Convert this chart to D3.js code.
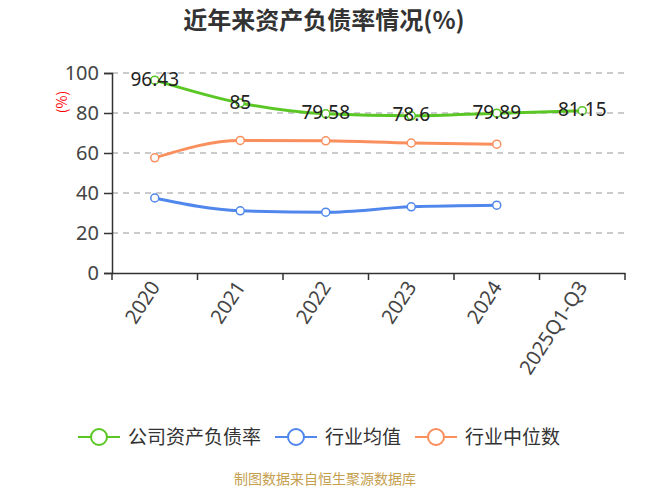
<!DOCTYPE html>
<html>
<head>
<meta charset="utf-8">
<script src="https://cdn.jsdelivr.net/npm/d3@7"></script>
<style>
body { margin: 0; background: #fff; }
svg { font-family: "Noto Sans CJK SC", "Noto Sans", sans-serif; }
</style>
</head>
<body>
<svg id="chart" width="650" height="488"></svg>
<script>
// categories and series
var categories = ['2020', '2021', '2022', '2023', '2024', '2025Q1-Q3'];
var company_ratio = [96.43, 85, 79.58, 78.6, 79.89, 81.15];
var industry_mean = [37.5, 31.1, 30.4, 33.1, 33.9];
var industry_median = [57.6, 66.3, 66.1, 65.0, 64.4];
var y_ticks = [0, 20, 40, 60, 80, 100];
var series_names = ['公司资产负债率', '行业均值', '行业中位数'];
var series_colors = ['#5ac724', '#5087ec', '#fa8f5e'];

var margin = { top: 73, right: 25, bottom: 215, left: 112 };
var svg = d3.select('#chart');
var width = 650 - margin.left - margin.right;
var height = 488 - margin.top - margin.bottom;

var x = d3.scaleBand().domain(categories).range([0, width]);
var y = d3.scaleLinear().domain([0, 100]).range([height, 0]);

// title
svg.append('text')
   .attr('x', 324).attr('y', 29)
   .attr('text-anchor', 'middle')
   .style('font-size', '24px').style('font-weight', 'bold').style('fill', '#333')
   .text('近年来资产负债率情况(%)');

var g = svg.append('g').attr('transform', 'translate(' + margin.left + ',' + margin.top + ')');

// dashed grid lines
g.selectAll('.grid')
 .data(y_ticks.filter(d => d > 0))
 .enter().append('line')
 .attr('class', 'grid')
 .attr('x1', 0).attr('x2', width)
 .attr('y1', d => y(d)).attr('y2', d => y(d))
 .style('stroke', '#bbb').style('stroke-width', 1.5).style('stroke-dasharray', '6,5');

// y axis
var yAxis = g.append('g').call(d3.axisLeft(y).tickValues(y_ticks).tickSize(8).tickPadding(5));
yAxis.select('.domain').style('stroke', '#333').style('stroke-width', 1.5);
yAxis.selectAll('.tick line').style('stroke', '#333').style('stroke-width', 1.5);
yAxis.selectAll('text').style('font-size', '20px').style('fill', '#444').style('font-family', '"Noto Sans", sans-serif');

svg.append('text')
   .attr('transform', 'translate(67,102)rotate(-90)')
   .attr('text-anchor', 'middle')
   .style('font-size', '14px').style('fill', '#f00')
   .text('(%)');

// x axis, ticks on band edges
var xAxis = g.append('g').attr('transform', 'translate(0,' + height + ')')
  .call(d3.axisBottom(x).tickSize(0).tickSizeOuter(0));
xAxis.select('.domain').style('stroke', '#333').style('stroke-width', 1.5);
g.append('g').attr('transform', 'translate(0,' + height + ')')
 .selectAll('line')
 .data(d3.range(categories.length + 1))
 .enter().append('line')
 .attr('x1', i => i * x.bandwidth()).attr('x2', i => i * x.bandwidth())
 .attr('y1', 0).attr('y2', 7)
 .style('stroke', '#333').style('stroke-width', 1.5);
xAxis.selectAll('text')
 .attr('transform', 'translate(0,10)rotate(-57)')
 .attr('dy', '0.35em').attr('y', 0).attr('x', 0)
 .style('text-anchor', 'end')
 .style('font-size', '20px').style('fill', '#444').style('font-family', '"Noto Sans", sans-serif');

var cx = (d, i) => x(categories[i]) + x.bandwidth() / 2;
var line = d3.line().x(cx).y(d => y(d)).curve(d3.curveMonotoneX);

var all_series = [company_ratio, industry_mean, industry_median];
[2, 1, 0].forEach(function(s) {
	var data = all_series[s];
	g.append('path').datum(data)
	 .attr('d', line)
	 .style('fill', 'none').style('stroke', series_colors[s]).style('stroke-width', 3);
	g.selectAll('.pt' + s)
	 .data(data)
	 .enter().append('circle')
	 .attr('class', 'pt' + s)
	 .attr('cx', cx).attr('cy', d => y(d))
	 .attr('r', 4)
	 .style('fill', '#fff').style('stroke', series_colors[s]).style('stroke-width', 1.5);
});

// data labels on company series
g.selectAll('.lbl')
 .data(company_ratio)
 .enter().append('text')
 .attr('class', 'lbl')
 .attr('x', cx).attr('y', d => y(d) - 1)
 .attr('dy', '0.35em')
 .attr('text-anchor', 'middle')
 .style('font-size', '19px').style('fill', '#222').style('font-family', '"Noto Sans", sans-serif')
 .text(d => d);

// legend
var legend = svg.append('g').attr('transform', 'translate(0,437)');
var legend_x = [78, 275, 415];
series_names.forEach(function(name, i) {
	var item = legend.append('g').attr('transform', 'translate(' + legend_x[i] + ',0)');
	item.append('line').attr('x1', 0).attr('x2', 42).attr('y1', 0).attr('y2', 0)
	    .style('stroke', series_colors[i]).style('stroke-width', 2);
	item.append('circle').attr('cx', 21).attr('cy', 0).attr('r', 8)
	    .style('fill', '#fff').style('stroke', series_colors[i]).style('stroke-width', 2);
	item.append('text').attr('x', 50).attr('y', 0).attr('dy', '0.35em')
	    .style('font-size', '19px').style('fill', '#333')
	    .text(name);
});

svg.append('text')
   .attr('x', 325).attr('y', 484)
   .attr('text-anchor', 'middle')
   .style('font-size', '14px').style('fill', '#c5a04f')
   .text('制图数据来自恒生聚源数据库');
</script>
</body>
</html>
